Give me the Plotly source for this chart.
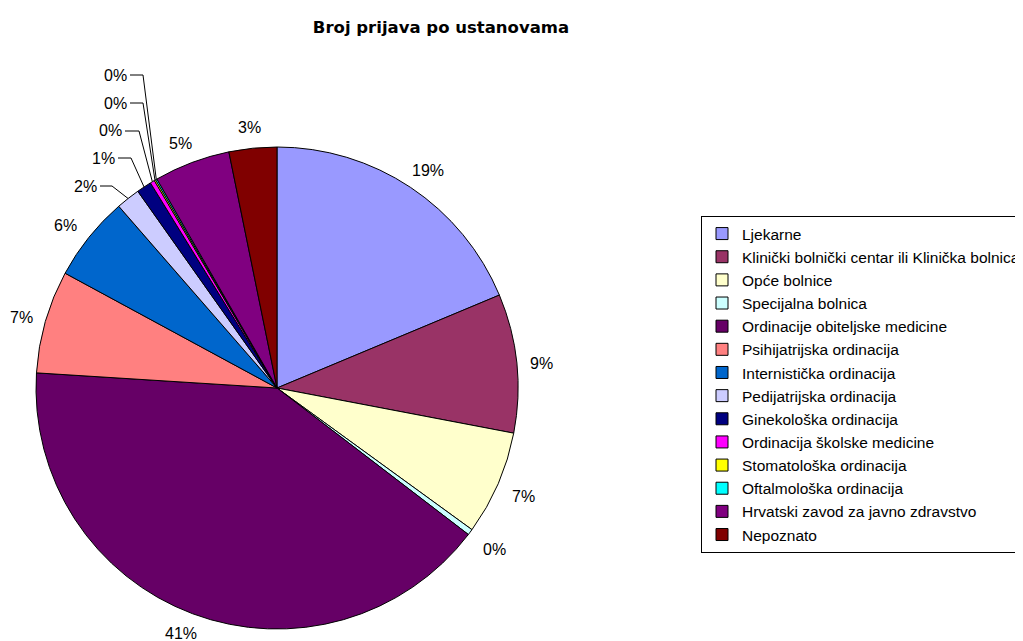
import math
import plotly.graph_objects as go

categories = [
    "Ljekarne",
    "Klinički bolnički centar ili Klinička bolnica",
    "Opće bolnice",
    "Specijalna bolnica",
    "Ordinacije obiteljske medicine",
    "Psihijatrijska ordinacija",
    "Internistička ordinacija",
    "Pedijatrijska ordinacija",
    "Ginekološka ordinacija",
    "Ordinacija školske medicine",
    "Stomatološka ordinacija",
    "Oftalmološka ordinacija",
    "Hrvatski zavod za javno zdravstvo",
    "Nepoznato",
]
values = [18.7, 9.3, 7.0, 0.4, 40.6, 6.9, 5.7, 1.6, 1.0, 0.3, 0.1, 0.1, 5.1, 3.2]
colors = ["#9999FF", "#993366", "#FFFFCC", "#CCFFFF", "#660066", "#FF8080", "#0066CC",
          "#CCCCFF", "#000080", "#FF00FF", "#FFFF00", "#00FFFF", "#800080", "#800000"]

# figure is wider than the window so the legend box runs off the right edge (as in reference)
W, H = 1063, 641
OFF = 8  # page body margin
FONT = "Liberation Sans, Arial, sans-serif"


def px(sx):
    return (sx - OFF) / W


def py(sy):
    return 1 - (sy - OFF) / H


# pie placement (screen pixels)
cx, cy, R = 277, 388, 241
dom_x = [px(cx - R), px(cx + R)]
dom_y = [py(cy + R), py(cy - R)]

fig = go.Figure(go.Pie(
    labels=categories,
    values=values,
    sort=False,
    direction="clockwise",
    rotation=0,
    marker=dict(colors=colors, line=dict(color="black", width=1)),
    textinfo="none",
    domain=dict(x=dom_x, y=dom_y),
    hoverinfo="label+percent",
))

total = sum(values)
pcts = [v / total for v in values]
# crowded small slices: label text centre and elbow x (screen pixels)
callouts = {7: (85, 186, 112), 8: (103, 158, 131), 9: (110, 131, 139),
            10: (115, 103, 143), 11: (115, 75, 143)}
annotations = []
shapes = []
cum = 0.0
for i, p in enumerate(pcts):
    mid = (cum + p / 2) * 2 * math.pi
    cum += p
    txt = f"{round(p * 100):.0f}%"
    ex, ey = cx + R * math.sin(mid), cy - R * math.cos(mid)
    if i in callouts:
        tx, ty, elbow = callouts[i]
        half = 13
        shapes.append(dict(
            type="path", xref="paper", yref="paper",
            path=(f"M {px(tx + half + 2)},{py(ty)} L {px(elbow)},{py(ty)} "
                  f"L {px(ex)},{py(ey)}"),
            line=dict(color="black", width=1)))
    else:
        tx = cx + (R + 24) * math.sin(mid) + 10 * math.sin(mid) * abs(math.cos(mid))
        tx = max(tx, 21)
        ty = min(cy - (R + 24) * math.cos(mid) + 3, 633)
    annotations.append(dict(
        x=px(tx), y=py(ty), xref="paper", yref="paper", text=txt,
        showarrow=False, xanchor="center", yanchor="middle",
        font=dict(family=FONT, size=16, color="black")))

fig.update_layout(
    width=W, height=H,
    margin=dict(l=0, r=0, t=0, b=0),
    paper_bgcolor="white",
    font=dict(family=FONT, size=16, color="black"),
    title=dict(text="<b>Broj prijava po ustanovama</b>", x=px(441), xanchor="center",
               y=py(27), yanchor="middle",
               font=dict(family="DejaVu Sans, sans-serif", size=16.5)),
    legend=dict(x=px(701), y=py(216), xanchor="left", yanchor="top",
                bordercolor="black", borderwidth=1, bgcolor="white",
                font=dict(family=FONT, size=15.5), tracegroupgap=0, itemwidth=30),
    annotations=annotations,
    shapes=shapes,
)

fig.write_html("out.html")
